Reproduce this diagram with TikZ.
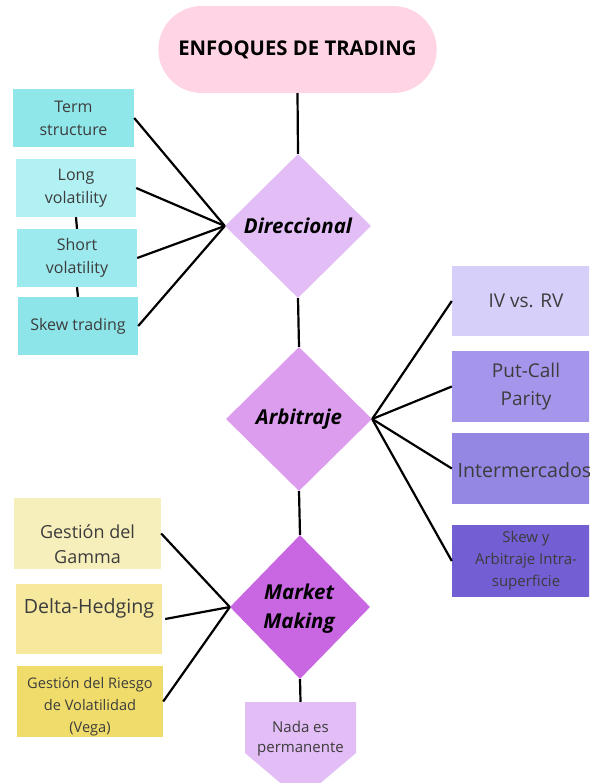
\documentclass[tikz,border=0pt]{standalone}
\usepackage{fontspec}
\setmainfont{Open Sans}
\usetikzlibrary{shapes.geometric,shapes.misc}

\definecolor{pillpink}{HTML}{FFD5E6}
\definecolor{cyanA}{HTML}{90E7EA}
\definecolor{cyanB}{HTML}{B2F1F3}
\definecolor{cyanC}{HTML}{9DEAEE}
\definecolor{cyanD}{HTML}{8EE5E9}
\definecolor{lilacA}{HTML}{E2BDF6}
\definecolor{lilacB}{HTML}{DD9DEF}
\definecolor{lilacC}{HTML}{C966E2}
\definecolor{violetA}{HTML}{D6CFFA}
\definecolor{violetB}{HTML}{A696EB}
\definecolor{violetC}{HTML}{9486E3}
\definecolor{violetD}{HTML}{735FD3}
\definecolor{yellowA}{HTML}{F7EFBB}
\definecolor{yellowB}{HTML}{F6E99E}
\definecolor{yellowC}{HTML}{F0DC6B}
\definecolor{boxtext}{HTML}{3C3C3C}

\tikzset{
  link/.style={draw=black, line width=2.2pt},
  plainbox/.style={rectangle, inner sep=0pt, align=center, text=boxtext},
  dia/.style={diamond, inner sep=0pt, align=center, minimum width=146pt, minimum height=144pt,
    font=\fontsize{20.5}{29}\selectfont\bfseries\itshape},
  lbl/.style={align=center, text=boxtext, inner sep=0pt},
}

\begin{document}
\begin{tikzpicture}[x=1pt,y=-1pt]
\useasboundingbox (0,0) rectangle (589,783);
\clip (0,0) rectangle (589,783);
\fill[white] (0,0) rectangle (589,783);

% title
\node[rounded rectangle, fill=pillpink, minimum width=285pt, minimum height=87pt,
      font=\fontsize{20.3}{24}\selectfont\bfseries] (title) at (297.5,49.5) {ENFOQUES DE TRADING};

% decision diamonds
\node[dia, fill=lilacA] (dir) at (298,226) {Direccional};
\node[dia, fill=lilacB] (arb) at (299,419) {Arbitraje};
\node[dia, fill=lilacC, minimum width=140pt] (mm) at (300,607) {};
\node[align=center, inner sep=0pt, font=\fontsize{20.5}{29}\selectfont\bfseries\itshape] (mmtext) at (299,608.5) {Market\\Making};

% closing shape
\fill[lilacA] (245,702) -- (356,702) -- (356,753) -- (300.5,800) -- (245,753) -- cycle;
\node[plainbox, minimum width=111pt, minimum height=51pt] (nada) at (300.5,727.5) {};
\node[lbl, font=\fontsize{15}{20}\selectfont] (nadatext) at (300.5,739) {Nada es\\permanente};

% directional strategies
\node[plainbox, fill=cyanA, minimum width=121pt, minimum height=58pt, font=\fontsize{16}{23}\selectfont] (term) at (73.5,118) {Term\\structure};
\node[plainbox, fill=cyanB, minimum width=120pt, minimum height=58pt, font=\fontsize{16}{23}\selectfont] (long) at (76,188) {Long\\volatility};
\node[plainbox, fill=cyanC, minimum width=120pt, minimum height=58pt, font=\fontsize{16}{23}\selectfont] (short) at (77,258) {Short\\volatility};
\node[plainbox, fill=cyanD, minimum width=120pt, minimum height=58pt, font=\fontsize{16}{23}\selectfont] (skew) at (78,326) {Skew trading};

% arbitrage strategies
\node[plainbox, fill=violetA, minimum width=148pt, minimum height=70pt, font=\fontsize{19}{28}\selectfont] (ivrv) at (526,301) {IV vs. RV};
\node[plainbox, fill=violetB, minimum width=148pt, minimum height=71pt, font=\fontsize{19}{28}\selectfont] (pcp) at (526,386.5) {Put-Call\\Parity};
\node[plainbox, fill=violetC, minimum width=148pt, minimum height=71pt] (inter) at (526,468.5) {};
\node[lbl, font=\fontsize{19.6}{28}\selectfont] (intertext) at (524.5,470) {Intermercados};
\node[plainbox, fill=violetD, minimum width=148pt, minimum height=72pt, font=\fontsize{15}{22}\selectfont] (skewy) at (526,561) {Skew y\\Arbitraje Intra-\\superficie};

% market making strategies
\node[plainbox, fill=yellowA, minimum width=147pt, minimum height=71pt] (gamma) at (87.5,533.5) {};
\node[lbl, font=\fontsize{18}{25}\selectfont] (gammatext) at (87.5,544.5) {Gestión del\\Gamma};
\node[plainbox, fill=yellowB, minimum width=146pt, minimum height=70pt] (delta) at (89,619) {};
\node[lbl, font=\fontsize{19.6}{25}\selectfont] (deltatext) at (89,608) {Delta-Hedging};
\node[plainbox, fill=yellowC, minimum width=146pt, minimum height=71pt] (vega) at (90,701.5) {};
\node[lbl, font=\fontsize{14.6}{22}\selectfont] (vegatext) at (90,706.5) {Gestión del Riesgo\\de Volatilidad\\(Vega)};

% spine
\draw[link] (title.south) -- (dir.north);
\draw[link] (dir.south) -- (arb.north);
\draw[link] (arb.south) -- (mm.north);
\draw[link] (mm.south) -- (nada.north);

% branches
\draw[link] (term.east) -- (dir.west);
\draw[link] (long.east) -- (dir.west);
\draw[link] (short.east) -- (dir.west);
\draw[link] (skew.east) -- (dir.west);
\draw[link] (long.south) -- (short.north);
\draw[link] (short.south) -- (skew.north);

\draw[link] (arb.east) -- (ivrv.west);
\draw[link] (arb.east) -- (pcp.west);
\draw[link] (arb.east) -- (inter.west);
\draw[link] (arb.east) -- (skewy.west);

\draw[link] (gamma.east) -- (mm.west);
\draw[link] ([xshift=3pt]delta.east) -- (mm.west);
\draw[link] (vega.east) -- (mm.west);
\end{tikzpicture}
\end{document}
